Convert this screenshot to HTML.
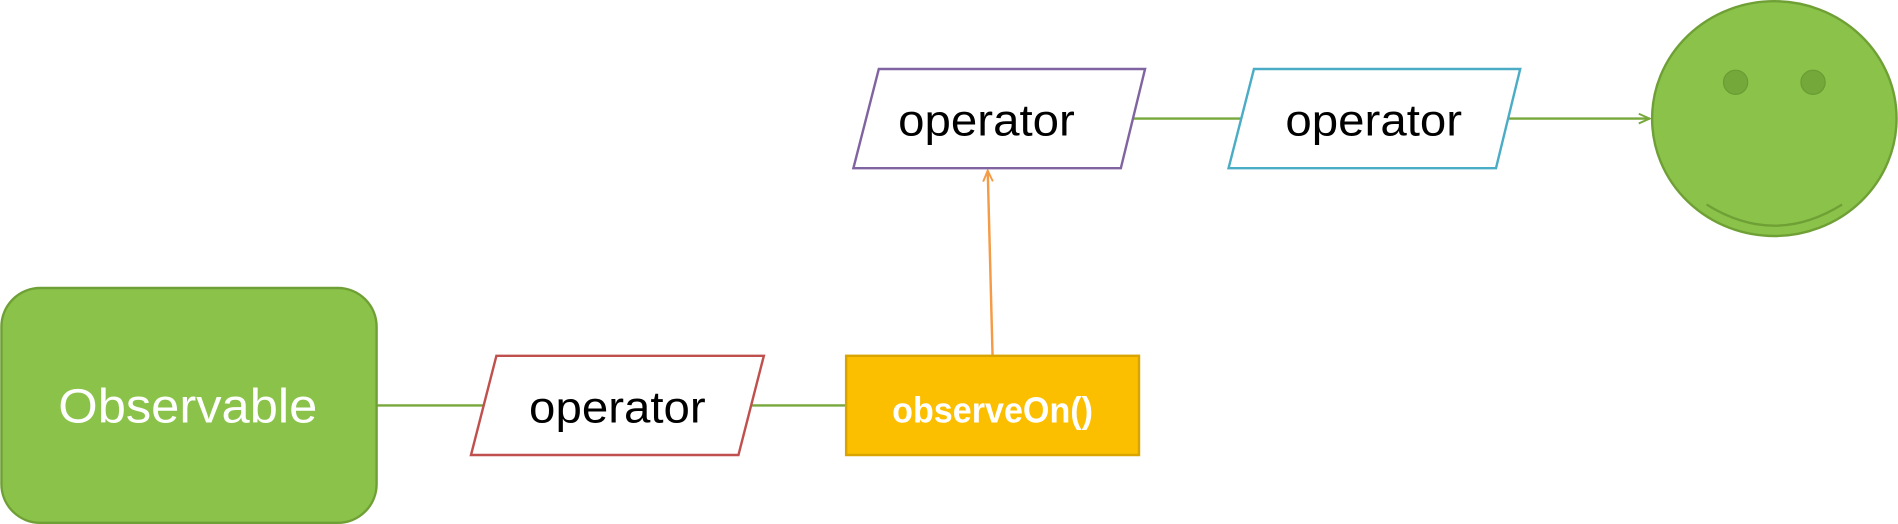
<!DOCTYPE html>
<html><head><meta charset="utf-8"><style>html,body{margin:0;padding:0;background:#fff;}svg{display:block}</style></head>
<body>
<svg width="1898" height="524" viewBox="0 0 1568 433" xmlns="http://www.w3.org/2000/svg" font-family="Liberation Sans, sans-serif">
<defs>
<marker id="ag" markerWidth="12" markerHeight="12" refX="10" refY="5" orient="auto" markerUnits="userSpaceOnUse"><path d="M1,1 L10,5 L1,9" fill="none" stroke="#77a83c" stroke-width="1.6"/></marker>
<marker id="ao" markerWidth="12" markerHeight="12" refX="10" refY="5" orient="auto" markerUnits="userSpaceOnUse"><path d="M1,1 L10,5 L1,9" fill="none" stroke="#f59a45" stroke-width="1.6"/></marker>
</defs>
<g stroke-width="2" fill="none">
<line x1="311" y1="335" x2="400" y2="335" stroke="#77a83c"/>
<line x1="620" y1="335" x2="699" y2="335" stroke="#77a83c"/>
<line x1="936" y1="98" x2="1026" y2="98" stroke="#77a83c"/>
<line x1="1246" y1="98" x2="1363" y2="98" stroke="#77a83c" marker-end="url(#ag)"/>
<line x1="820" y1="294" x2="816" y2="141" stroke="#f59a45" marker-end="url(#ao)"/>
</g>
<rect x="1" y="238" width="310" height="194" rx="32" fill="#8bc34a" stroke="#6fa036" stroke-width="2"/>
<text x="48" y="349" font-size="40" fill="#fff" textLength="214" lengthAdjust="spacingAndGlyphs">Observable</text>
<polygon points="410,294 631,294 610,376 389,376" fill="#fff" stroke="#c0504d" stroke-width="2"/>
<text x="437" y="349" font-size="37" fill="#000" textLength="146" lengthAdjust="spacingAndGlyphs">operator</text>
<rect x="699" y="294" width="242" height="82" fill="#fbbf00" stroke="#d9a300" stroke-width="2"/>
<text x="737" y="349" font-size="30" font-weight="bold" fill="#fff" textLength="166" lengthAdjust="spacingAndGlyphs">observeOn()</text>
<polygon points="726,57 946,57 926,139 705,139" fill="#fff" stroke="#8064a2" stroke-width="2"/>
<text x="742" y="112" font-size="37" fill="#000" textLength="146" lengthAdjust="spacingAndGlyphs">operator</text>
<polygon points="1036,57 1256,57 1236,139 1015,139" fill="#fff" stroke="#4bacc6" stroke-width="2"/>
<text x="1062" y="112" font-size="37" fill="#000" textLength="146" lengthAdjust="spacingAndGlyphs">operator</text>
<ellipse cx="1466" cy="98" rx="101" ry="97" fill="#8bc34a" stroke="#6fa036" stroke-width="2"/>
<circle cx="1434" cy="68" r="10" fill="#74a83a" stroke="#6a9c34" stroke-width="1"/>
<circle cx="1498" cy="68" r="10" fill="#74a83a" stroke="#6a9c34" stroke-width="1"/>
<path d="M1410,169 Q1466,204 1522,169" fill="none" stroke="#6fa036" stroke-width="2"/>
</svg>
</body></html>
